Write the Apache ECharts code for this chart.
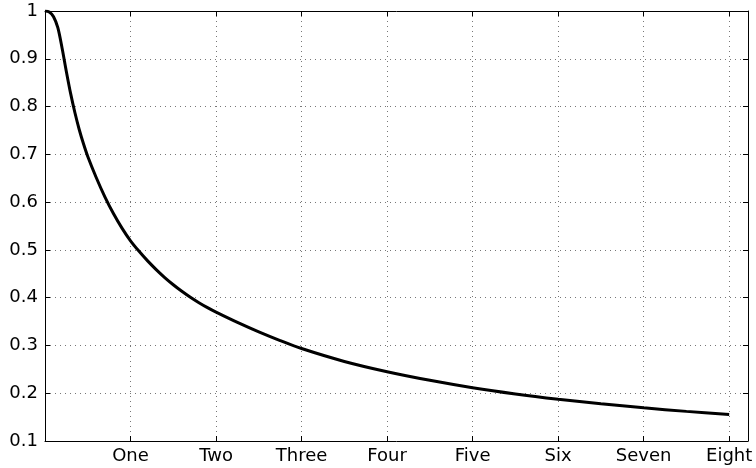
<!DOCTYPE html>
<html>
<head>
<meta charset="utf-8">
<script src="https://cdn.jsdelivr.net/npm/echarts@6/dist/echarts.min.js"></script>
<style>
html,body{margin:0;padding:0;background:#fff;}
#chart{width:756px;height:468px;}
</style>
</head>
<body>
<div id="chart"></div>
<script>
var tickLabels = ['', 'One', 'Two', 'Three', 'Four', 'Five', 'Six', 'Seven', 'Eight'];
var xValues = [0, 0.05, 0.1, 0.15, 0.2, 0.25, 0.3, 0.35, 0.4, 0.45, 0.5, 0.6, 0.7, 0.8, 0.9, 1.0, 1.1, 1.2, 1.3, 1.4, 1.5, 1.6, 1.7, 1.8, 1.9, 2.0, 2.25, 2.5, 2.75, 3.0, 3.5, 4.0, 4.5, 5.0, 5.5, 6.0, 6.5, 7.0, 7.5, 8.0];
var yValues = [1.0, 0.998, 0.988, 0.965, 0.922, 0.873, 0.827, 0.787, 0.752, 0.722, 0.6955, 0.651, 0.611, 0.576, 0.5455, 0.519, 0.497, 0.477, 0.4588, 0.4422, 0.4271, 0.4134, 0.4009, 0.3895, 0.3791, 0.3697, 0.3482, 0.3284, 0.3102, 0.2935, 0.2665, 0.245, 0.227, 0.2115, 0.1985, 0.1875, 0.178, 0.1695, 0.162, 0.1555];

var seriesData = xValues.map(function (x, i) { return [x, yValues[i]]; });

var FONT = 'DejaVu Sans';
var axisLine = { show: true, onZero: false, lineStyle: { color: '#000', width: 1 } };
var tickIn = { show: true, inside: true, length: 5, lineStyle: { color: '#000', width: 1 } };
var gridLine = { show: true, lineStyle: { color: '#777', width: 1, type: [1, 4] } };

var chart = echarts.init(document.getElementById('chart'), null, { renderer: 'canvas' });
chart.setOption({
  animation: false,
  backgroundColor: '#fff',
  grid: { left: 45, right: 8, top: 11, bottom: 27, containLabel: false },
  xAxis: [
    {
      type: 'value', min: 0, max: 8.22, interval: 1, position: 'bottom',
      axisLine: axisLine, axisTick: tickIn, splitLine: gridLine,
      axisLabel: {
        color: '#000', fontFamily: FONT, fontSize: 18, margin: 6,
        showMinLabel: true, showMaxLabel: false,
        formatter: function (v) { var i = Math.round(v); return (Math.abs(v - i) < 1e-6 && tickLabels[i] !== undefined) ? tickLabels[i] : ''; }
      }
    },
    {
      type: 'value', min: 0, max: 8.22, interval: 1, position: 'top',
      axisLine: axisLine, axisTick: tickIn, splitLine: { show: false }, axisLabel: { show: false }
    }
  ],
  yAxis: [
    {
      type: 'value', min: 0.1, max: 1, interval: 0.1, position: 'left',
      axisLine: axisLine, axisTick: tickIn, splitLine: gridLine,
      axisLabel: {
        color: '#000', fontFamily: FONT, fontSize: 18, margin: 7,
        formatter: function (v) { return String(Math.round(v * 10) / 10); }
      }
    },
    {
      type: 'value', min: 0.1, max: 1, interval: 0.1, position: 'right',
      axisLine: axisLine, axisTick: tickIn, splitLine: { show: false }, axisLabel: { show: false }
    }
  ],
  series: [
    {
      type: 'line', xAxisIndex: 0, yAxisIndex: 0,
      data: seriesData, showSymbol: false, symbol: 'none',
      smooth: 0.3,
      lineStyle: { color: '#000', width: 3 },
      clip: true
    }
  ]
});
</script>
</body>
</html>
